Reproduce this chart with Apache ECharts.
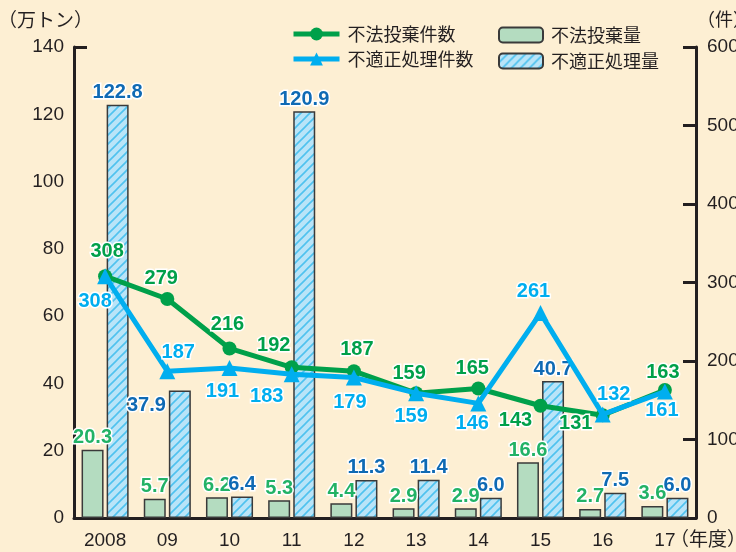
<!DOCTYPE html>
<html>
<head>
<meta charset="utf-8">
<script src="https://cdn.jsdelivr.net/npm/echarts@6/dist/echarts.min.js"></script>
<style>
  html, body { margin: 0; padding: 0; background: #fdefd3; }
  #chart { width: 736px; height: 552px; }
</style>
</head>
<body>
<div id="chart"></div>
<script>
// Fiscal years on the category axis
const years = ['2008', '09', '10', '11', '12', '13', '14', '15', '16', '17'];

// Case counts (right axis, 件)
const illegalDumpCases = [308, 279, 216, 192, 187, 159, 165, 143, 131, 163];
const improperCases = [308, 187, 191, 183, 179, 159, 146, 261, 132, 161];

// Volumes (left axis, 万トン)
const illegalDumpVolume = [20.3, 5.7, 6.2, 5.3, 4.4, 2.9, 2.9, 16.6, 2.7, 3.6];
const improperVolume = [122.8, 37.9, 6.4, 120.9, 11.3, 11.4, 6.0, 40.7, 7.5, 6.0];

// Axis tick values
const volumeTicks = [0, 20, 40, 60, 80, 100, 120, 140];
const caseTicks = [0, 100, 200, 300, 400, 500, 600];

// Label placement offsets (label centre relative to the point)
const greenLabelOffsets = [[2,-25],[-6,-21],[-2,-24],[-18,-22],[3,-22],[-7,-20],[-6,-20],[-25,15],[-27,8],[-2,-18]];
const blueLabelOffsets = [[-10,25],[11,-19],[-7,23],[-25,22],[-4,25],[-5,23],[-6,20],[-7,-22],[11,-20],[-3,19]];

const INK = '#231f20';
const GREEN_LINE = '#00a04a';
const BLUE_LINE = '#00aeef';
const GREEN_BAR_LABEL = '#22b266';
const BLUE_BAR_LABEL = '#0f6ab4';
const FONT = "'Liberation Sans', Arial, 'Noto Sans CJK JP', sans-serif";
const JP_FONT = "'Noto Sans CJK JP', 'Liberation Sans', sans-serif";

// Diagonal hatch fill for the improper-processing volume bars
function makeHatch() {
  const s = 9;
  const c = document.createElement('canvas');
  c.width = s; c.height = s;
  const g = c.getContext('2d');
  g.fillStyle = '#b9e4f8';
  g.fillRect(0, 0, s, s);
  g.strokeStyle = '#4fc2ef';
  g.lineWidth = 1.6;
  g.beginPath();
  g.moveTo(-1, s + 1); g.lineTo(s + 1, -1);
  g.moveTo(-s / 2 - 1, s / 2 + 1); g.lineTo(s / 2 + 1, -s / 2 - 1);
  g.moveTo(s / 2 - 1, s * 1.5 + 1); g.lineTo(s * 1.5 + 1, s / 2 - 1);
  g.stroke();
  return c;
}
const hatch = { image: makeHatch(), repeat: 'repeat' };

const valueLabelBase = {
  show: true,
  fontFamily: FONT,
  fontWeight: 'bold',
  fontSize: 20,
  textBorderColor: '#ffffff',
  textBorderWidth: 3
};

const chart = echarts.init(document.getElementById('chart'), null, { renderer: 'canvas' });

chart.setOption({
  backgroundColor: '#fdefd3',
  animation: false,
  grid: { left: 74, right: 40, top: 47, bottom: 34, containLabel: false, outerBoundsMode: 'none' },
  legend: [
    {
      data: [
        { name: '不法投棄件数', itemStyle: { color: GREEN_LINE } },
        { name: '不適正処理件数', itemStyle: { color: BLUE_LINE } }
      ],
      left: 286, top: 20, orient: 'vertical',
      itemWidth: 46, itemHeight: 16, itemGap: 7,
      lineStyle: { width: 5 },
      textStyle: { fontFamily: JP_FONT, fontSize: 18, color: INK, padding: [0, 0, 0, 3] }
    },
    {
      data: ['不法投棄量', '不適正処理量'],
      left: 493, top: 21, orient: 'vertical',
      itemWidth: 44, itemHeight: 15, itemGap: 8,
      textStyle: { fontFamily: JP_FONT, fontSize: 18, color: INK, padding: [0, 0, 0, 3] }
    }
  ],
  xAxis: {
    type: 'category',
    data: years,
    axisLine: { lineStyle: { color: INK, width: 3 } },
    axisTick: { show: false },
    axisLabel: { color: INK, fontFamily: FONT, fontSize: 19, margin: 13 }
  },
  yAxis: [
    {
      type: 'value',
      position: 'left',
      min: volumeTicks[0],
      max: volumeTicks[volumeTicks.length - 1],
      interval: volumeTicks[1] - volumeTicks[0],
      splitLine: { show: false },
      axisLine: { show: true, lineStyle: { color: INK, width: 3 } },
      axisTick: { show: true, inside: true, length: 13, lineStyle: { color: INK, width: 3 },
                  customValues: [volumeTicks[volumeTicks.length - 1]] },
      axisLabel: { color: INK, fontFamily: FONT, fontSize: 19, margin: 10 }
    },
    {
      type: 'value',
      position: 'right',
      min: caseTicks[0],
      max: caseTicks[caseTicks.length - 1],
      interval: caseTicks[1] - caseTicks[0],
      splitLine: { show: false },
      axisLine: { show: true, lineStyle: { color: INK, width: 3 } },
      axisTick: { show: true, inside: true, length: 13, lineStyle: { color: INK, width: 3 } },
      axisLabel: { color: INK, fontFamily: FONT, fontSize: 19, margin: 11 }
    }
  ],
  graphic: [
    { type: 'text', left: -2, top: 10, style: { text: '（万トン）', font: "19px 'Noto Sans CJK JP'", fill: INK } },
    { type: 'text', left: 697, top: 10, style: { text: '（件）', font: "18px 'Noto Sans CJK JP'", fill: INK } },
    { type: 'text', left: 670, top: 529, style: { text: '（年度）', font: "19px 'Noto Sans CJK JP'", fill: INK } }
  ],
  series: [
    {
      name: '不法投棄量',
      type: 'bar',
      yAxisIndex: 0,
      barWidth: 22,
      barGap: '14%',
      z: 2,
      itemStyle: { color: '#b4dcc0', borderColor: '#3a3a3a', borderWidth: 1.5 },
      label: Object.assign({}, valueLabelBase, {
        position: 'top', distance: 2, color: GREEN_BAR_LABEL,
        formatter: p => p.value.toFixed(1)
      }),
      data: illegalDumpVolume
    },
    {
      name: '不適正処理量',
      type: 'bar',
      yAxisIndex: 0,
      barWidth: 22,
      z: 2,
      itemStyle: { color: hatch, borderColor: '#3a3a3a', borderWidth: 1.5 },
      label: Object.assign({}, valueLabelBase, {
        position: 'top', distance: 2, color: BLUE_BAR_LABEL,
        formatter: p => p.value.toFixed(1)
      }),
      data: improperVolume.map((v, i) => i === 1
        ? { value: v, label: { position: [-3, 15], align: 'right', verticalAlign: 'middle' } }
        : v)
    },
    {
      name: '不法投棄件数',
      type: 'line',
      yAxisIndex: 1,
      z: 4,
      symbol: 'circle',
      symbolSize: 14,
      lineStyle: { color: GREEN_LINE, width: 5 },
      itemStyle: { color: GREEN_LINE },
      label: Object.assign({}, valueLabelBase, { position: 'inside', color: GREEN_LINE }),
      data: illegalDumpCases.map((v, i) => ({ value: v, label: { offset: greenLabelOffsets[i] } }))
    },
    {
      name: '不適正処理件数',
      type: 'line',
      yAxisIndex: 1,
      z: 5,
      symbol: 'triangle',
      symbolSize: 16,
      lineStyle: { color: BLUE_LINE, width: 5 },
      itemStyle: { color: BLUE_LINE },
      label: Object.assign({}, valueLabelBase, { position: 'inside', color: BLUE_LINE }),
      data: improperCases.map((v, i) => ({ value: v, label: { offset: blueLabelOffsets[i] } }))
    }
  ]
});
</script>
</body>
</html>
